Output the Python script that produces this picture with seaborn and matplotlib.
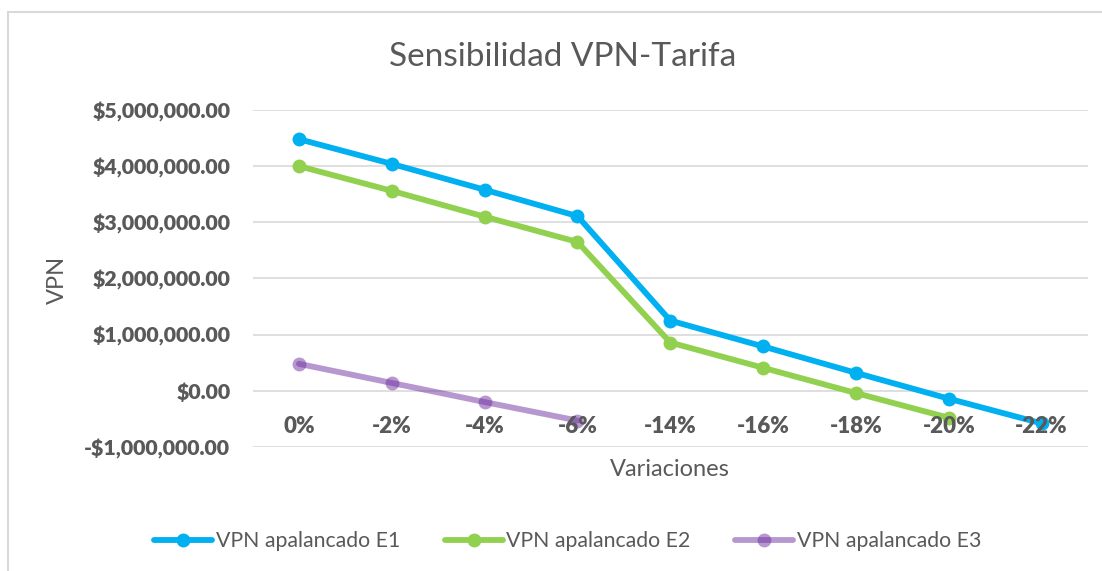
import numpy as np
import pandas as pd
import matplotlib
matplotlib.use("Agg")
import matplotlib.pyplot as plt
import matplotlib.transforms as mtransforms
from matplotlib.lines import Line2D
from matplotlib.ticker import FuncFormatter
import seaborn as sns

# Sensitivity of leveraged NPV to tariff variations
variaciones = ["0%", "-2%", "-4%", "-6%", "-14%", "-16%", "-18%", "-20%", "-22%"]
vpn_e1 = [4480000, 4040000, 3580000, 3110000, 1250000, 790000, 320000, -140000, -580000]
vpn_e2 = [4000000, 3560000, 3100000, 2650000, 860000, 410000, -40000, -480000, np.nan]
vpn_e3 = [480000, 140000, -200000, -530000, np.nan, np.nan, np.nan, np.nan, np.nan]
series_names = ["VPN apalancado E1", "VPN apalancado E2", "VPN apalancado E3"]

df = pd.DataFrame({"Variaciones": variaciones,
                   series_names[0]: vpn_e1,
                   series_names[1]: vpn_e2,
                   series_names[2]: vpn_e3})
long_df = df.melt(id_vars="Variaciones", var_name="Serie", value_name="VPN").dropna()
long_df["pos"] = long_df["Variaciones"].map({v: i for i, v in enumerate(variaciones)})

sns.set_theme(style="white")
font = "Lato"
plt.rcParams["font.family"] = [font, "DejaVu Sans"]
gray = "#595959"

fig = plt.figure(figsize=(11.02, 5.71), dpi=100)
ax = fig.add_axes([0.2292, 0.2172, 0.7581, 0.5902])

colors = {series_names[0]: "#00B0F0", series_names[1]: "#92D050", series_names[2]: "#7030A0"}
alphas = {series_names[0]: 1.0, series_names[1]: 1.0, series_names[2]: 0.5}
lw, ms = 4.2, 10

for name in series_names:
    sub = long_df[long_df["Serie"] == name]
    sns.lineplot(data=sub, x="pos", y="VPN", ax=ax, color=colors[name],
                 alpha=alphas[name], linewidth=lw, marker="o", markersize=ms,
                 markeredgewidth=0, zorder=3, legend=False)

ax.set_xlim(-0.5, len(variaciones) - 0.5)
ax.set_ylim(-1000000, 5000000)
ax.set_yticks(np.arange(-1000000, 5000001, 1000000))
ax.yaxis.set_major_formatter(FuncFormatter(
    lambda v, p: ("-$" if v < 0 else "$") + f"{abs(v):,.2f}"))
ax.grid(axis="y", color="#D9D9D9", linewidth=1.2)
ax.set_axisbelow(True)
for s in ax.spines.values():
    s.set_visible(False)
ax.tick_params(axis="y", length=0, pad=16, labelsize=15.3, labelcolor=gray)
for lbl in ax.get_yticklabels():
    lbl.set_fontweight("heavy")
ax.set_xticks([])

# Category labels sit just under the zero line, drawn over the series
trans = mtransforms.blended_transform_factory(ax.transData, ax.transData)
for i, v in enumerate(variaciones):
    ax.text(i, -640000, v, transform=trans, ha="center", va="center",
            fontsize=16, fontweight="heavy", color=gray, zorder=6)

ax.set_xlabel("")
ax.set_ylabel("")
fig.text(0.0525, 0.51, "VPN", rotation=90, ha="center", va="center",
         fontsize=17, color=gray)
fig.text(0.608, 0.177, "Variaciones", ha="center", va="center",
         fontsize=17, color=gray)
fig.text(0.511, 0.9, "Sensibilidad VPN-Tarifa", ha="center", va="center",
         fontsize=24, color=gray)

handles = [Line2D([0], [0], color=colors[n], alpha=alphas[n], linewidth=lw,
                  marker="o", markersize=ms, markeredgewidth=0) for n in series_names]
leg = fig.legend(handles, series_names, loc="center", bbox_to_anchor=(0.515, 0.052),
                 ncol=3, frameon=False, fontsize=15.3, handlelength=2.75,
                 columnspacing=2.1, handletextpad=0.15)
for t in leg.get_texts():
    t.set_color(gray)

# Chart area border (top and left edges)
fig.add_artist(Line2D([0.0077, 1.0], [0.979, 0.979], transform=fig.transFigure,
                      color="#D9D9D9", linewidth=1.5))
fig.add_artist(Line2D([0.0077, 0.0077], [0.0, 0.979], transform=fig.transFigure,
                      color="#D9D9D9", linewidth=1.5))

fig.savefig("out.png", dpi=100)
